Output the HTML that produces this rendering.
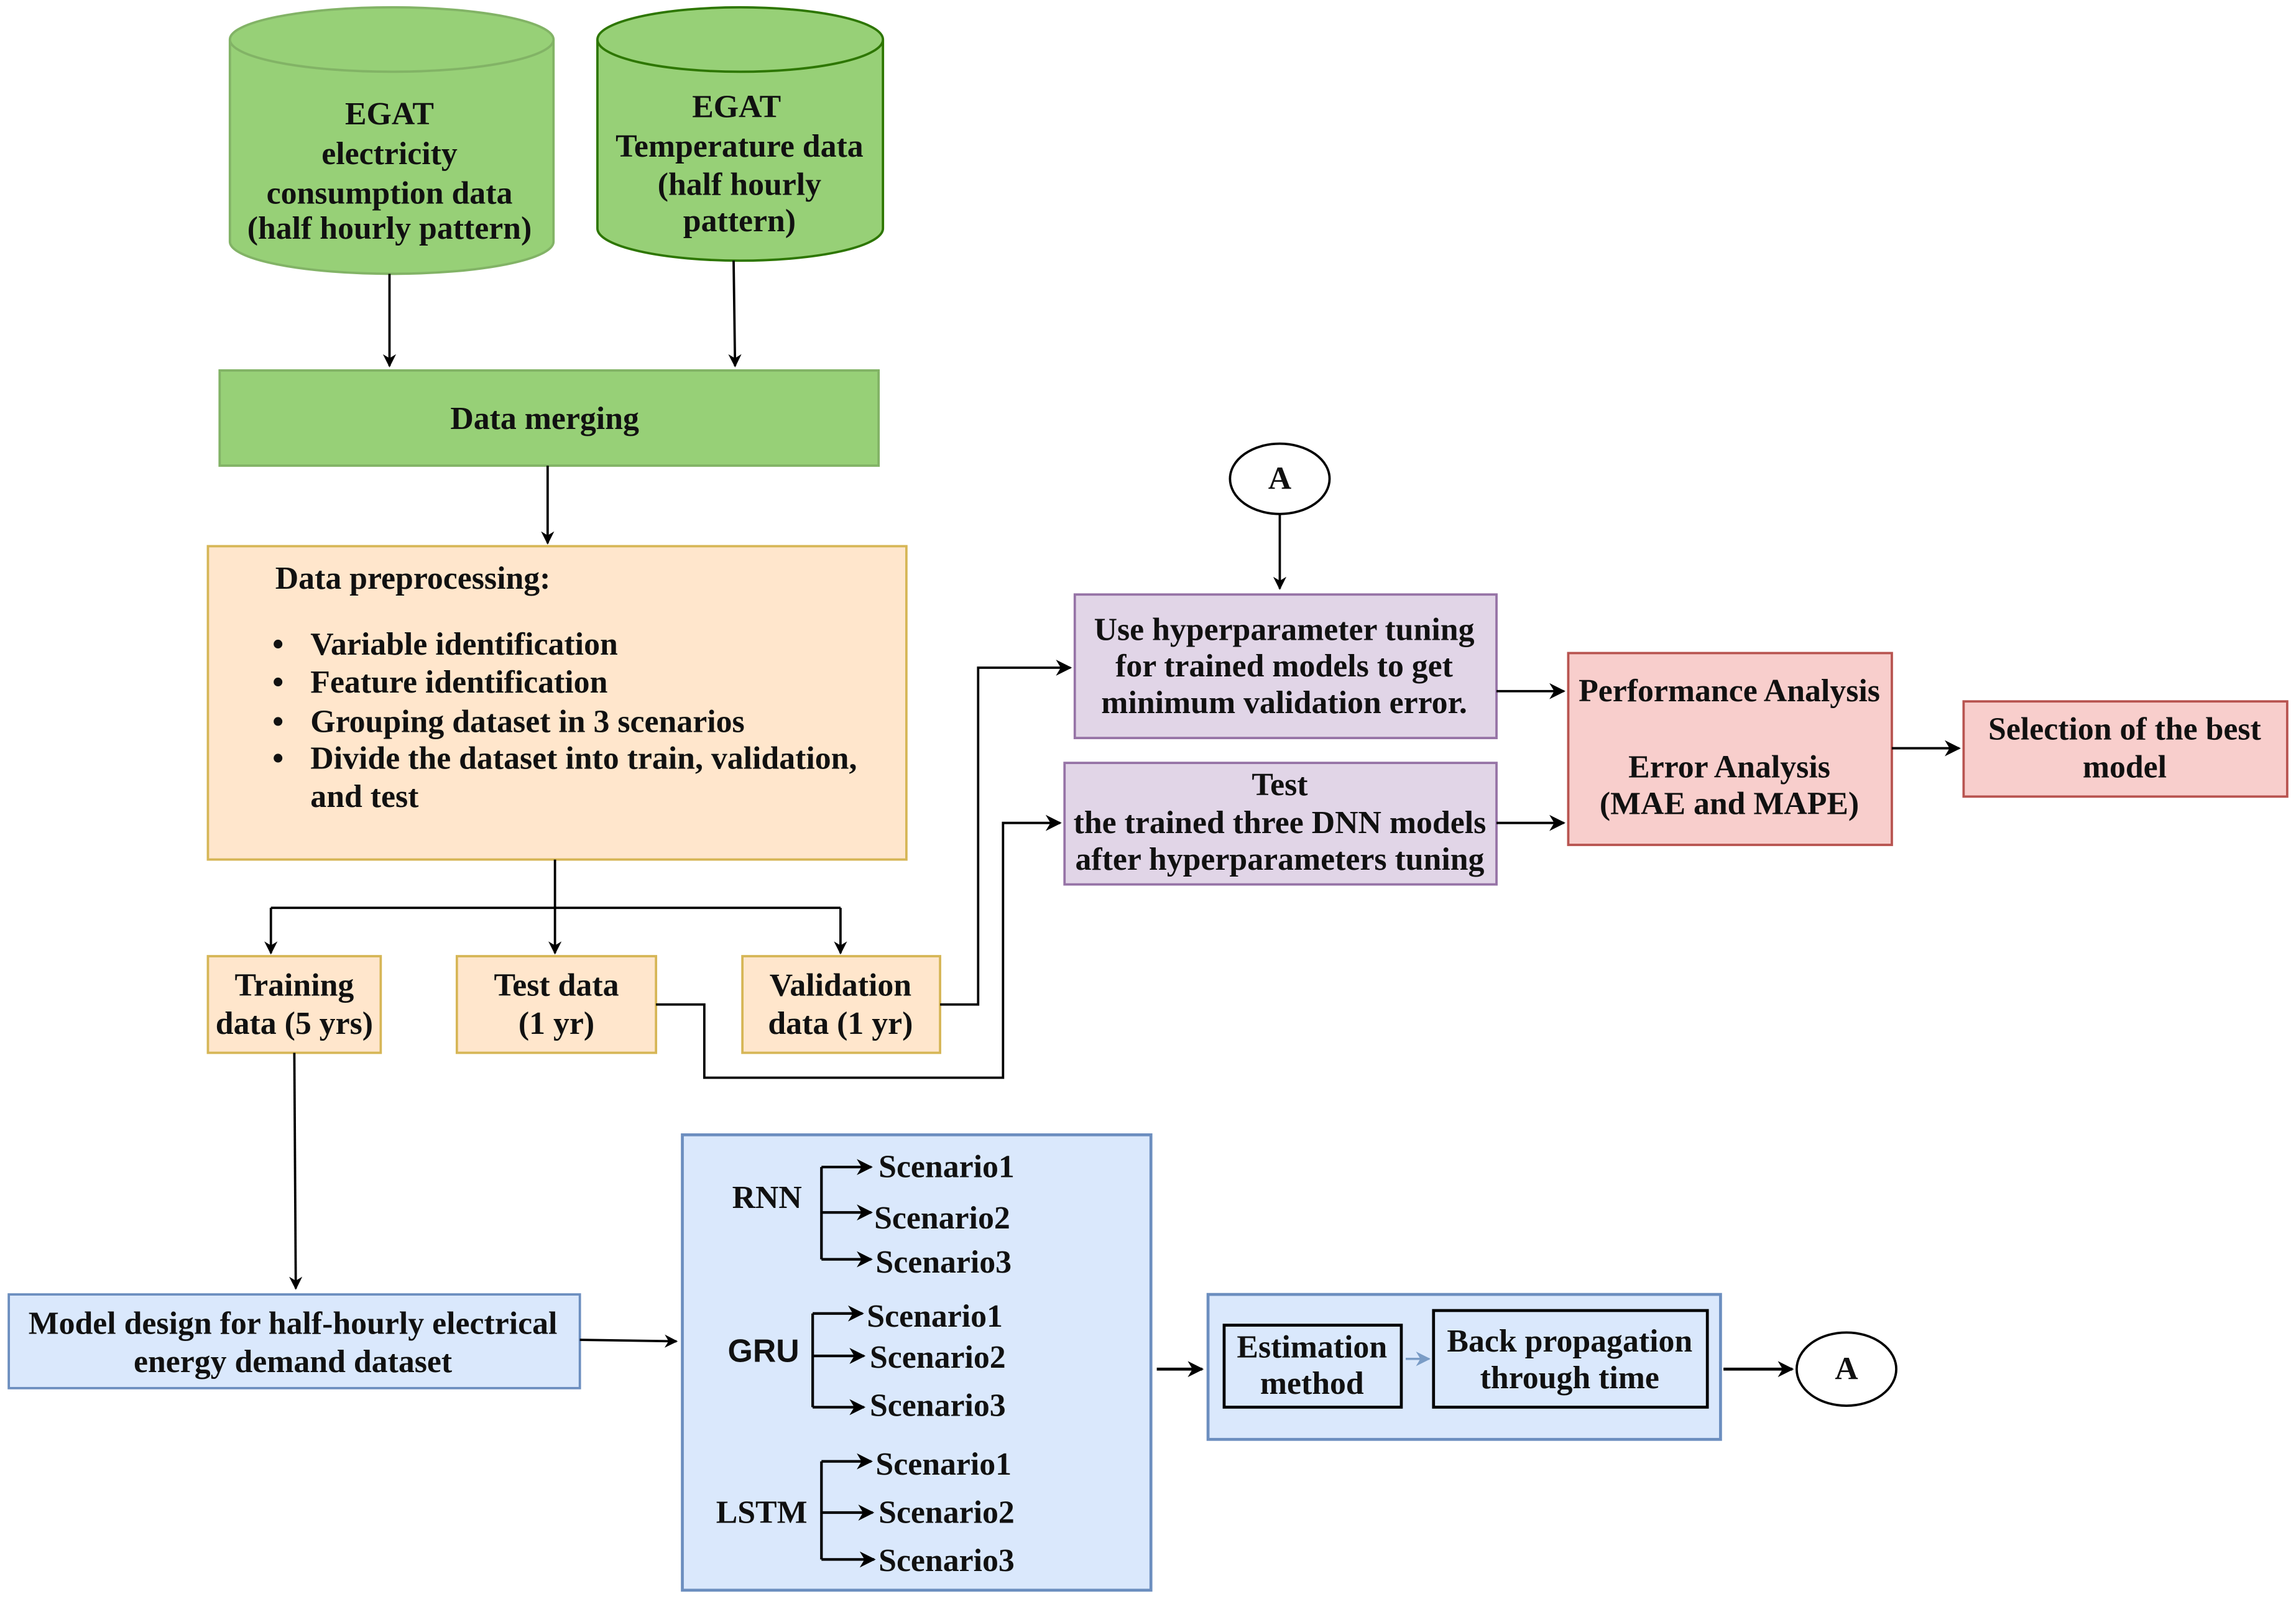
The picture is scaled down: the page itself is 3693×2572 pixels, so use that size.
<!DOCTYPE html>
<html><head><meta charset="utf-8"><style>
html,body{margin:0;padding:0;background:#fff;}
svg{display:block;}
text{font-family:"Liberation Serif",serif;font-weight:bold;font-size:22px;fill:#111;}
</style></head><body>
<svg width="3693" height="2572" viewBox="0 0 1568 1092" preserveAspectRatio="none" xmlns="http://www.w3.org/2000/svg">
<defs>
<marker id="ar" viewBox="0 0 10 10" refX="9" refY="5" markerWidth="9" markerHeight="9" orient="auto" markerUnits="userSpaceOnUse"><path d="M0,0 L10,5 L0,10 L3,5 z" fill="#000"/></marker>
<marker id="ar2" viewBox="0 0 10 10" refX="9" refY="5" markerWidth="11" markerHeight="11" orient="auto" markerUnits="userSpaceOnUse"><path d="M0,0 L10,5 L0,10 L3,5 z" fill="#000"/></marker>
<marker id="arb" viewBox="0 0 10 10" refX="9" refY="5" markerWidth="10" markerHeight="10" orient="auto" markerUnits="userSpaceOnUse"><path d="M0,0 L10,5 L0,10 L3,5 z" fill="#7a9cc6"/></marker>
</defs>
<g stroke="#000" stroke-width="1.6" fill="none">
<path d="M157,27 L157,165 A110.5,22 0 0 0 378,165 L378,27" fill="#97d077" stroke="#82b366"/>
<ellipse cx="267.5" cy="27" rx="110.5" ry="22" fill="#97d077" stroke="#82b366"/>
<path d="M408,27 L408,156 A97.5,22 0 0 0 603,156 L603,27" fill="#97d077" stroke="#2d7600"/>
<ellipse cx="505.5" cy="27" rx="97.5" ry="22" fill="#97d077" stroke="#2d7600"/>
<line x1="266" y1="187" x2="266" y2="250" marker-end="url(#ar)"/>
<line x1="501" y1="178" x2="502" y2="250" marker-end="url(#ar)"/>
<rect x="150" y="253" width="450" height="65" fill="#97d077" stroke="#82b366"/>
<line x1="374" y1="318" x2="374" y2="371" marker-end="url(#ar)"/>
<rect x="142" y="373" width="477" height="214" fill="#ffe6cc" stroke="#d6b656"/>
<path d="M379,587 V620 M185,620 H574"/>
<line x1="185" y1="620" x2="185" y2="651" marker-end="url(#ar)"/>
<line x1="379" y1="620" x2="379" y2="651" marker-end="url(#ar)"/>
<line x1="574" y1="620" x2="574" y2="651" marker-end="url(#ar)"/>
<rect x="142" y="653" width="118" height="66" fill="#ffe6cc" stroke="#d6b656"/>
<rect x="312" y="653" width="136" height="66" fill="#ffe6cc" stroke="#d6b656"/>
<rect x="507" y="653" width="135" height="66" fill="#ffe6cc" stroke="#d6b656"/>
<path d="M642,686 H668 V456 H731" marker-end="url(#ar2)"/>
<path d="M448,686 H481 V736 H685 V562 H724" marker-end="url(#ar2)"/>
<rect x="734" y="406" width="288" height="98" fill="#e1d5e7" stroke="#9673a6"/>
<rect x="727" y="521" width="295" height="83" fill="#e1d5e7" stroke="#9673a6"/>
<ellipse cx="874" cy="327" rx="34" ry="24" fill="#fff"/>
<line x1="874" y1="351" x2="874" y2="402" marker-end="url(#ar)"/>
<line x1="1022" y1="472" x2="1068" y2="472" marker-end="url(#ar2)"/>
<line x1="1022" y1="562" x2="1068" y2="562" marker-end="url(#ar2)"/>
<rect x="1071" y="446" width="221" height="131" fill="#f8cecc" stroke="#b85450"/>
<line x1="1292" y1="511" x2="1338" y2="511" marker-end="url(#ar2)"/>
<rect x="1341" y="479" width="221" height="65" fill="#f8cecc" stroke="#b85450"/>
<line x1="201" y1="719" x2="202" y2="880" marker-end="url(#ar)"/>
<rect x="6" y="884" width="390" height="64" fill="#dae8fc" stroke="#6c8ebf"/>
<line x1="396" y1="915" x2="462" y2="916" marker-end="url(#ar)"/>
<rect x="466" y="775" width="320" height="311" fill="#dae8fc" stroke="#6c8ebf" stroke-width="2"/>
<g stroke-width="1.8">
<path d="M561,797 V860"/>
<line x1="561" y1="797" x2="595" y2="797" marker-end="url(#ar2)"/>
<line x1="561" y1="828" x2="595" y2="828" marker-end="url(#ar2)"/>
<line x1="561" y1="860" x2="595" y2="860" marker-end="url(#ar2)"/>
<path d="M555,897 V961"/>
<line x1="555" y1="897" x2="589" y2="897" marker-end="url(#ar2)"/>
<line x1="555" y1="926" x2="590" y2="926" marker-end="url(#ar2)"/>
<line x1="555" y1="961" x2="590" y2="961" marker-end="url(#ar2)"/>
<path d="M561,998 V1065"/>
<line x1="561" y1="998" x2="595" y2="998" marker-end="url(#ar2)"/>
<line x1="561" y1="1033" x2="596" y2="1033" marker-end="url(#ar2)"/>
<line x1="561" y1="1065" x2="597" y2="1065" marker-end="url(#ar2)"/>
</g>
<line x1="790" y1="935" x2="821" y2="935" stroke-width="2" marker-end="url(#ar2)"/>
<rect x="825" y="884" width="350" height="99" fill="#dae8fc" stroke="#6c8ebf" stroke-width="2"/>
<rect x="836" y="905" width="121" height="56" fill="#dae8fc" stroke-width="2"/>
<line x1="960" y1="928" x2="976" y2="928" stroke="#7a9cc6" stroke-width="1.5" marker-end="url(#arb)"/>
<rect x="979" y="895" width="187" height="66" fill="#dae8fc" stroke-width="2"/>
<line x1="1177" y1="935" x2="1224" y2="935" stroke-width="2" marker-end="url(#ar2)"/>
<ellipse cx="1261" cy="935" rx="34" ry="25" fill="#fff"/>
</g>
<g text-anchor="middle">
<text x="266" y="85">EGAT</text>
<text x="266" y="112">electricity</text>
<text x="266" y="139">consumption data</text>
<text x="266" y="163">(half hourly pattern)</text>
<text x="503" y="80">EGAT</text>
<text x="505" y="107">Temperature data</text>
<text x="505" y="133">(half hourly</text>
<text x="505" y="158">pattern)</text>
<text x="372" y="293">Data merging</text>
<text x="201" y="680">Training</text>
<text x="201" y="706">data (5 yrs)</text>
<text x="380" y="680">Test data</text>
<text x="380" y="706">(1 yr)</text>
<text x="574" y="680">Validation</text>
<text x="574" y="706">data (1 yr)</text>
<text x="874" y="334">A</text>
<text x="877" y="437">Use hyperparameter tuning</text>
<text x="877" y="462">for trained models to get</text>
<text x="877" y="487">minimum validation error.</text>
<text x="874" y="543">Test</text>
<text x="874" y="569">the trained three DNN models</text>
<text x="874" y="594">after hyperparameters tuning</text>
<text x="1181" y="479">Performance Analysis</text>
<text x="1181" y="531">Error Analysis</text>
<text x="1181" y="556">(MAE and MAPE)</text>
<text x="1451" y="505">Selection of the best</text>
<text x="1451" y="531">model</text>
<text x="200" y="911">Model design for half-hourly electrical</text>
<text x="200" y="937">energy demand dataset</text>
<text x="896" y="927">Estimation</text>
<text x="896" y="952">method</text>
<text x="1072" y="923">Back propagation</text>
<text x="1072" y="948">through time</text>
<text x="1261" y="942">A</text>
</g>
<text x="188" y="402">Data preprocessing:</text>
<g>
<text x="186" y="447">•</text><text x="212" y="447">Variable identification</text>
<text x="186" y="473">•</text><text x="212" y="473">Feature identification</text>
<text x="186" y="500">•</text><text x="212" y="500">Grouping dataset in 3 scenarios</text>
<text x="186" y="525">•</text><text x="212" y="525">Divide the dataset into train, validation,</text>
<text x="212" y="551">and test</text>
</g>
<text x="500" y="825">RNN</text>
<text x="600" y="804">Scenario1</text>
<text x="597" y="839">Scenario2</text>
<text x="598" y="869">Scenario3</text>
<text x="497" y="930" style="font-family:'Liberation Sans',sans-serif">GRU</text>
<text x="592" y="906">Scenario1</text>
<text x="594" y="934">Scenario2</text>
<text x="594" y="967">Scenario3</text>
<text x="489" y="1040">LSTM</text>
<text x="598" y="1007">Scenario1</text>
<text x="600" y="1040">Scenario2</text>
<text x="600" y="1073">Scenario3</text>
</svg>
</body></html>
